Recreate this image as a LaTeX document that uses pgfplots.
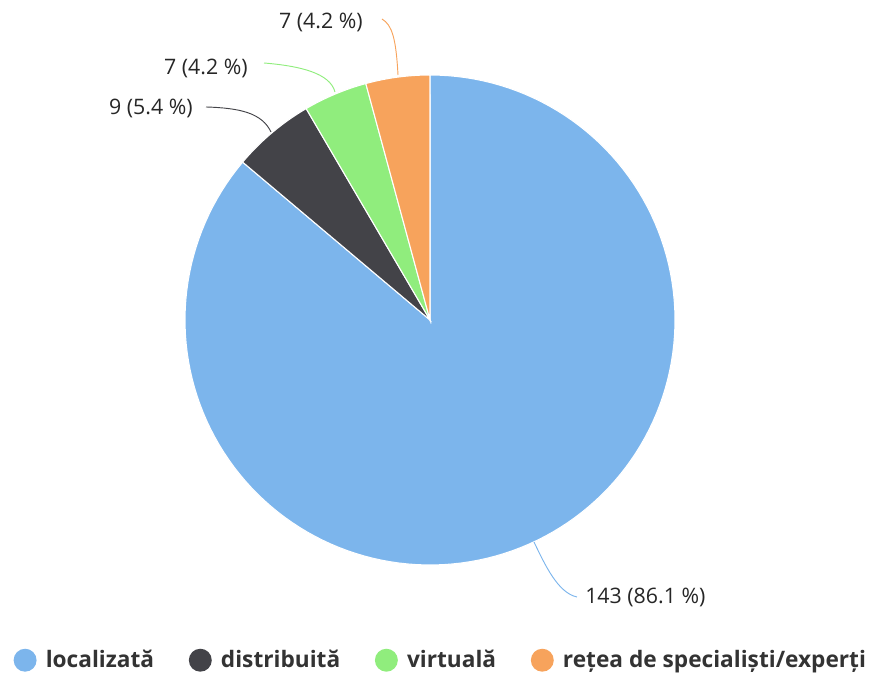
\documentclass[border=0pt]{standalone}
\usepackage{pgfplots}
\usepackage{pgfplotstable}
\pgfplotsset{compat=1.18}
\usepackage{fontspec}
\setmainfont{Open Sans}

\definecolor{cA}{HTML}{7CB5EC}
\definecolor{cB}{HTML}{434348}
\definecolor{cC}{HTML}{90ED7D}
\definecolor{cD}{HTML}{F7A35C}

% values and shares of the four slices, clockwise from 12 o'clock
\pgfplotstableread{
value pct
143 86.1
9 5.4
7 4.2
7 4.2
}\piedata

\newcommand\getval[3]{\pgfplotstablegetelem{#1}{#2}\of\piedata\global\let#3\pgfplotsretval}
\getval{0}{value}\vA \getval{1}{value}\vB \getval{2}{value}\vC \getval{3}{value}\vD
\getval{0}{pct}\pA \getval{1}{pct}\pB \getval{2}{pct}\pC \getval{3}{pct}\pD
\pgfmathsetmacro\tot{\vA+\vB+\vC+\vD}
\pgfmathsetmacro\aZ{90}
\pgfmathsetmacro\aA{\aZ-360*(\vA/\tot)}
\pgfmathsetmacro\aB{\aA-360*(\vB/\tot)}
\pgfmathsetmacro\aC{\aB-360*(\vC/\tot)}
\pgfmathsetmacro\aD{\aC-360*(\vD/\tot)}
\def\cx{430}\def\cy{353}\def\R{245}

\pgfplotsset{
  slice/.style={forget plot, fill=#1, draw=white, line width=0.8pt, samples=150, variable=\t},
  dot/.style={legend image code/.code={\fill[#1, draw=none] (0,0) circle (8.6pt); \path[draw=none] (-8.6pt,0) -- (13.5pt,0);}}
}

\begin{document}
\begin{tikzpicture}
\begin{axis}[
  scale only axis,
  width=657.75pt, height=504.75pt,
  xmin=0, xmax=877, ymin=0, ymax=673,
  hide axis, clip=false,
  legend columns=4,
  legend style={at={(0.503,0.019)}, anchor=center, draw=none, fill=none,
    text=black!80,
    font=\fontsize{17}{20}\selectfont\bfseries,
    /tikz/every even column/.append style={column sep=24pt}},
  legend cell align=left,
]
\path (axis cs:0,0) rectangle (axis cs:877,673);
\addplot[slice=cA, domain=\aA:\aZ] ({\cx+\R*cos(\t)},{\cy+\R*sin(\t)}) -- (axis cs:\cx,\cy) -- cycle;
\addplot[slice=cB, domain=\aB:\aA] ({\cx+\R*cos(\t)},{\cy+\R*sin(\t)}) -- (axis cs:\cx,\cy) -- cycle;
\addplot[slice=cC, domain=\aC:\aB] ({\cx+\R*cos(\t)},{\cy+\R*sin(\t)}) -- (axis cs:\cx,\cy) -- cycle;
\addplot[slice=cD, domain=\aD:\aC] ({\cx+\R*cos(\t)},{\cy+\R*sin(\t)}) -- (axis cs:\cx,\cy) -- cycle;

% connectors
\draw[cA, line width=0.7pt] (axis cs:534,131) .. controls (axis cs:545,108) and (axis cs:558,80) .. (axis cs:577,76);
\draw[cB, line width=0.7pt] (axis cs:206,566) .. controls (axis cs:240,565) and (axis cs:262,560) .. (axis cs:271,541);
\draw[cC, line width=0.7pt] (axis cs:264,610) .. controls (axis cs:300,607) and (axis cs:330,600) .. (axis cs:335,581);
\draw[cD, line width=0.7pt] (axis cs:382,654) .. controls (axis cs:392,648) and (axis cs:396,635) .. (axis cs:398,598);

% data labels
\begin{scope}[every node/.style={font=\fontsize{16}{19}\selectfont, text=black!85, inner sep=0pt}]
\node[anchor=west] at (axis cs:585,76) {\vA\ (\pA\ \%)};
\node[anchor=east] at (axis cs:193,565) {\vB\ (\pB\ \%)};
\node[anchor=east] at (axis cs:248,605) {\vC\ (\pC\ \%)};
\node[anchor=east] at (axis cs:363,651) {\vD\ (\pD\ \%)};
\end{scope}

\addlegendimage{dot=cA}
\addlegendentry{localizată}
\addlegendimage{dot=cB}
\addlegendentry{distribuită}
\addlegendimage{dot=cC}
\addlegendentry{virtuală}
\addlegendimage{dot=cD}
\addlegendentry{rețea de specialiști/experți}
\end{axis}
\end{tikzpicture}
\end{document}
